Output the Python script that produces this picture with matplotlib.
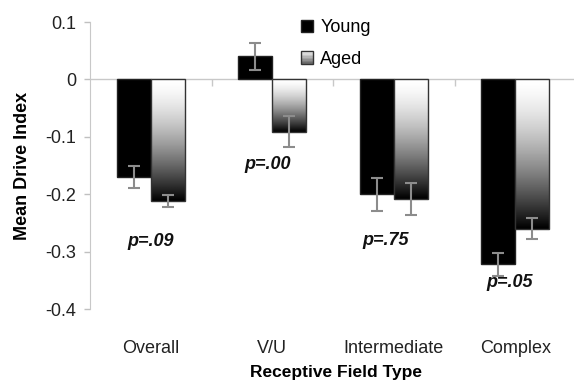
import numpy as np
import matplotlib
matplotlib.use("Agg")
import matplotlib.pyplot as plt
from matplotlib.patches import Rectangle
from matplotlib.legend_handler import HandlerBase

plt.rcParams["font.family"] = ["Liberation Sans", "DejaVu Sans"]
plt.rcParams["font.size"] = 13

# data
categories = ["Overall", "V/U", "Intermediate", "Complex"]
young = [-0.17, 0.04, -0.20, -0.322]
young_err = [0.019, 0.024, 0.029, 0.020]
aged = [-0.212, -0.091, -0.209, -0.26]
aged_err = [0.010, 0.027, 0.028, 0.018]
p_labels = ["p=.09", "p=.00", "p=.75", "p=.05"]
p_y = [-0.283, -0.148, -0.281, -0.354]

width = 0.28
x = np.arange(len(categories))
grad = 1 - np.linspace(0, 1, 256) ** 1.5  # white at top, black at bottom


class GradientHandler(HandlerBase):
    # legend swatch drawn as stacked gray stripes
    def create_artists(self, legend, orig_handle, xd, yd, w, h, fontsize, trans):
        arts = []
        n = 8
        for i in range(n):
            g = 0.92 - 0.5 * i / (n - 1)
            arts.append(Rectangle((xd, yd + h - (i + 1) * h / n), w, h / n,
                                  facecolor=str(g), edgecolor="none", transform=trans))
        arts.append(Rectangle((xd, yd), w, h, facecolor="none",
                              edgecolor="#333333", lw=1, transform=trans))
        return arts


fig = plt.figure(figsize=(5.74, 3.82), dpi=100)
ax = fig.add_axes([0.1568, 0.191, 0.8467, 0.7514])

ax.axhline(0, color="#c8c8c8", lw=1, zorder=1)
# small separator ticks on the zero line between categories
bounds = np.append(x[:-1] + 0.5, x[-1] + 0.5)
ax.plot(bounds, np.zeros_like(bounds), ls="none", marker=3, ms=5, mew=1,
        color="#c8c8c8", zorder=1, clip_on=False)

yb = ax.bar(x - width / 2, young, width, color="black", edgecolor="#222222", lw=1, zorder=2)
ab = ax.bar(x + width / 2, aged, width, color="none", edgecolor="#333333", lw=1, zorder=3)

# gradient fill for the aged bars
for r in ab:
    x0, y0 = r.get_x(), r.get_y()
    w, h = r.get_width(), r.get_height()
    top, bot = max(y0, y0 + h), min(y0, y0 + h)
    im = ax.imshow(grad.reshape(-1, 1), cmap="gray", vmin=0, vmax=1, aspect="auto",
                   extent=[x0, x0 + w, bot, top], origin="upper", zorder=2.5,
                   interpolation="bilinear")
    im.set_clip_path(r)

ax.errorbar(x - width / 2, young, yerr=young_err, fmt="none", ecolor="#8c8c8c",
            elinewidth=1.5, capsize=4.5, capthick=1.5, zorder=4)
ax.errorbar(x + width / 2, aged, yerr=aged_err, fmt="none", ecolor="#8c8c8c",
            elinewidth=1.5, capsize=4.5, capthick=1.5, zorder=4)

p_dx = [0.0, -0.04, -0.07, -0.05]
for xi, dx, yy, lab in zip(x, p_dx, p_y, p_labels):
    ax.text(xi + dx, yy, lab, ha="center", va="center", fontweight="bold",
            fontstyle="italic", fontsize=13, color="#111111", zorder=5)

ax.set_xlim(-0.5, 3.5)
ax.set_ylim(-0.4, 0.1)
ax.set_yticks([0.1, 0, -0.1, -0.2, -0.3, -0.4])
ax.set_yticklabels(["0.1", "0", "-0.1", "-0.2", "-0.3", "-0.4"])
ax.set_xticks(x)
ax.set_xticklabels(categories)
ax.tick_params(axis="x", length=0, pad=22, labelsize=13, labelcolor="#222222")
ax.tick_params(axis="y", length=4, width=1, color="#c0c0c0", pad=6,
               labelsize=13, labelcolor="#222222")

for s in ["top", "right", "bottom"]:
    ax.spines[s].set_visible(False)
ax.spines["left"].set_color("#c8c8c8")

ax.set_ylabel("Mean Drive Index", fontweight="bold", fontsize=13)
ax.yaxis.label.set_verticalalignment("center")
ax.yaxis.set_label_coords(-0.138, 0.5)
ax.set_xlabel("Receptive Field Type", fontweight="bold", fontsize=12.5)
ax.xaxis.label.set_verticalalignment("center")
ax.xaxis.set_label_coords(0.506, -0.22)

h_young = Rectangle((0, 0), 1, 1, facecolor="black", edgecolor="#222222")
h_aged = Rectangle((0, 0), 1, 1)
ax.legend([h_young, h_aged], ["Young", "Aged"], handler_map={h_aged: GradientHandler()},
          frameon=False, loc="upper left", bbox_to_anchor=(0.434, 1.01),
          borderpad=0, borderaxespad=0, handlelength=0.67, handleheight=0.67,
          handletextpad=0.4, labelspacing=0.8, fontsize=13)

plt.savefig("out.png", dpi=100)
